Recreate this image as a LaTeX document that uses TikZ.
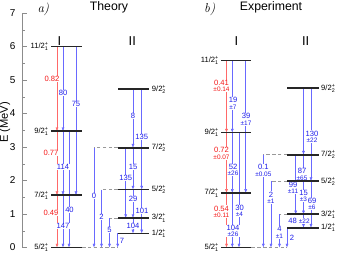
\documentclass[tikz,border=0pt]{standalone}
\usepackage{amsmath}
\usepackage{fontspec}
\setmainfont{Liberation Sans}
\usetikzlibrary{arrows.meta}

% level name with parity and index
\newcommand{\lvl}[2]{#1$^{\text{+}}_{\text{#2}}$}
% value with its error below
\newcommand{\pmerr}[2]{#1\\[-0.5pt]{\fontsize{5.5}{6}\selectfont ±#2}}

\begin{document}
\begin{tikzpicture}[x=0.03cm,y=1.005cm,
  level/.style={line width=1.5pt,black!85},
  gam/.style={lineblue,-{Latex[length=3.2pt,width=2.6pt]}},
  mgam/.style={linered,-{Latex[length=3.2pt,width=2.6pt]}},
  feed/.style={densely dashed,black!40},
  blab/.style={fill=white,inner sep=0.4pt,text=txtblue,align=center,
    font=\fontsize{6.5}{6}\selectfont},
  rlab/.style={blab,text=txtred},
  lname/.style={inner sep=1pt,font=\fontsize{6.5}{7}\selectfont},
  head/.style={font=\fontsize{10.5}{12}\selectfont},
  band/.style={font=\fontsize{11}{12}\selectfont}]
\definecolor{lineblue}{RGB}{105,105,255}
\definecolor{txtblue}{RGB}{30,30,235}
\definecolor{linered}{RGB}{255,105,105}
\definecolor{txtred}{RGB}{245,25,25}
\useasboundingbox (0,-0.164) rectangle (338,7.388);

% Energy axis, shared by both panels.
\draw[black!45] (22.7,0) -- (22.7,7);
\foreach \e in {0,...,7} {
  \draw[black!45] (22.7,\e) -- ++(4,0);
  \node[anchor=east,font=\fontsize{8.5}{9}\selectfont] (tick\e) at (19.5,\e) {\e};
}
\foreach \e in {0.5,1.5,...,6.5}
  \draw[black!45] (22.7,\e) -- ++(2.5,0);
\node[rotate=90,font=\fontsize{9.5}{10}\selectfont] (eaxis) at (5,3.73) {E (MeV)};

% Headings.
\node[font=\fontsize{11}{12}\selectfont\fontfamily{lmr}\itshape] (pa) at (43.3,7.11) {a)};
\node[head] (theory) at (109,7.17) {Theory};
\node[font=\fontsize{11}{12}\selectfont\fontfamily{lmr}\itshape] (pb) at (209.7,7.11) {b)};
\node[head] (expt) at (271,7.17) {Experiment};
\node[band] (ta) at (59.3,6.17) {I};
\node[band] (tb) at (132.3,6.17) {II};
\node[band] (ea) at (236.3,6.17) {I};
\node[band] (eb) at (305.7,6.17) {II};

% Theory, band I.
\draw[mgam] (57,6.0) -- (57,3.47);
\draw[gam] (63,6.0) -- (63,3.47);
\draw[gam] (76,6.0) -- (76,1.56);
\draw[mgam] (57,3.47) -- (57,1.56);
\draw[gam] (63,3.47) -- (63,1.56);
\draw[gam] (69,3.47) -- (69,0);
\draw[mgam] (57,1.56) -- (57,0);
\draw[gam] (63,1.56) -- (63,0);

% Theory, band II and its decays to the ground state.
\draw[gam] (133,4.72) -- (133,2.98);
\draw[gam] (141.7,4.72) -- (141.7,1.73);
\draw[gam] (125.7,2.98) -- (125.7,0.88);
\draw[gam] (133,2.98) -- (133,1.73);
\draw[gam] (133,1.73) -- (133,0.88);
\draw[gam] (141.7,1.73) -- (141.7,0.42);
\draw[gam] (133,0.88) -- (133,0.42);
\draw[feed] (118,2.98) -- (94,2.98);
\draw[feed] (118,1.73) -- (101.5,1.73);
\draw[feed] (118,0.88) -- (109.5,0.88);
\draw[feed] (82,0) -- (118,0);
\draw[gam] (94,2.98) -- (94,0);
\draw[gam] (101.5,1.73) -- (101.5,0);
\draw[gam] (109.5,0.88) -- (109.5,0);
\draw[gam] (117.7,0.42) -- (117.7,0);

% Theory values.
\node[rlab] (t1) at (52,5.03) {0.82};
\node[blab] (t2) at (63,4.61) {80};
\node[blab] (t3) at (76,4.28) {75};
\node[rlab] (t4) at (51,2.82) {0.77};
\node[blab] (t5) at (63,2.40) {114};
\node[rlab] (t6) at (51,1.03) {0.49};
\node[blab] (t7) at (69.5,1.12) {40};
\node[blab] (t8) at (63,0.64) {147};
\node[blab] (t9) at (133,3.93) {8};
\node[blab] (t10) at (141.7,3.30) {135};
\node[blab] (t11) at (133,2.40) {15};
\node[blab] (t12) at (125.7,2.07) {135};
\node[blab] (t13) at (133,1.45) {29};
\node[blab] (t14) at (142,1.09) {101};
\node[blab] (t15) at (133,0.64) {104};
\node[blab] (t16) at (94,1.54) {0};
\node[blab] (t17) at (101.5,0.91) {2};
\node[blab] (t18) at (109.5,0.52) {5};
\node[blab] (t19) at (122,0.19) {7};

% Experiment, band I.
\draw[mgam] (226.5,5.58) -- (226.5,3.43);
\draw[gam] (232.3,5.58) -- (232.3,3.43);
\draw[gam] (245.7,5.58) -- (245.7,1.63);
\draw[mgam] (226.5,3.43) -- (226.5,1.63);
\draw[gam] (232.3,3.43) -- (232.3,1.63);
\draw[gam] (239,3.43) -- (239,0);
\draw[mgam] (226.5,1.63) -- (226.5,0);
\draw[gam] (232.3,1.63) -- (232.3,0);

% Experiment, band II and its decays to the ground state.
\draw[gam] (303.5,4.75) -- (303.5,2.77);
\draw[gam] (311,4.75) -- (311,1.98);
\draw[gam] (303.5,2.77) -- (303.5,1.98);
\draw[gam] (295.7,2.77) -- (295.7,0.99);
\draw[gam] (303.5,1.98) -- (303.5,0.99);
\draw[gam] (311,1.98) -- (311,0.59);
\draw[gam] (303.5,0.99) -- (303.5,0.59);
\draw[feed] (287.3,2.77) -- (263.3,2.77);
\draw[feed] (287.3,1.98) -- (271,1.98);
\draw[feed] (287.3,0.99) -- (279.5,0.99);
\draw[feed] (251.3,0) -- (287.3,0);
\draw[gam] (263.3,2.77) -- (263.3,0);
\draw[gam] (271,1.98) -- (271,0);
\draw[gam] (279.5,0.99) -- (279.5,0);
\draw[gam] (287,0.59) -- (287,0);

% Experiment values.
\node[rlab] (x1) at (221.5,4.82) {\pmerr{0.41}{0.14}};
\node[blab] (x2) at (233,4.30) {\pmerr{19}{7}};
\node[blab] (x3) at (246,3.82) {\pmerr{39}{17}};
\node[rlab] (x4) at (221.5,2.81) {\pmerr{0.72}{0.07}};
\node[blab] (x5) at (233,2.31) {\pmerr{52}{26}};
\node[blab] (x6) at (239.5,1.09) {\pmerr{30}{4}};
\node[rlab] (x7) at (221.5,1.07) {\pmerr{0.54}{0.11}};
\node[blab] (x8) at (233,0.49) {\pmerr{104}{26}};
\node[blab] (x9) at (312,3.31) {\pmerr{130}{22}};
\node[blab] (x10) at (302,2.18) {\pmerr{87}{65}};
\node[blab] (x11) at (293,1.78) {\pmerr{99}{11}};
\node[blab] (x12) at (303.5,1.54) {\pmerr{15}{3}};
\node[blab] (x13) at (312,1.30) {\pmerr{69}{6}};
\node[blab] (x14) at (299,0.79) {48 {\fontsize{5.5}{6}\selectfont ±22}};
\node[blab] (x15) at (263.3,2.30) {\pmerr{0.1}{0.05}};
\node[blab] (x16) at (271,1.49) {\pmerr{2}{1}};
\node[blab] (x17) at (279.5,0.45) {\pmerr{4}{1}};
\node[blab] (x18) at (292,0.30) {2};

% Levels and their names.
\foreach \e in {0,1.56,3.47,6.0} \draw[level] (51,\e) -- (82,\e);
\foreach \e in {4.72,2.98,1.73,0.88,0.42} \draw[level] (118,\e) -- (149,\e);
\foreach \e in {0,1.63,3.43,5.58} \draw[level] (221.3,\e) -- (251.3,\e);
\foreach \e in {4.75,2.77,1.98,0.99,0.59} \draw[level] (287.3,\e) -- (318.5,\e);
\foreach \e/\j [count=\n] in {0/5,1.56/7,3.47/9,6.0/11}
  \node[lname,anchor=east] (tl\n) at (50,\e) {\lvl{\j/2}{1}};
\foreach \e/\j/\k [count=\n] in {4.72/9/2,2.98/7/2,1.73/5/2,0.88/3/1,0.42/1/1}
  \node[lname,anchor=west] (tr\n) at (150.5,\e) {\lvl{\j/2}{\k}};
\foreach \e/\j [count=\n] in {0/5,1.63/7,3.43/9,5.58/11}
  \node[lname,anchor=east] (xl\n) at (220.3,\e) {\lvl{\j/2}{1}};
\foreach \e/\j/\k [count=\n] in {4.75/9/2,2.77/7/2,1.98/5/2,0.99/3/1,0.59/1/1}
  \node[lname,anchor=west] (xr\n) at (319.8,\e) {\lvl{\j/2}{\k}};
\end{tikzpicture}
\end{document}
